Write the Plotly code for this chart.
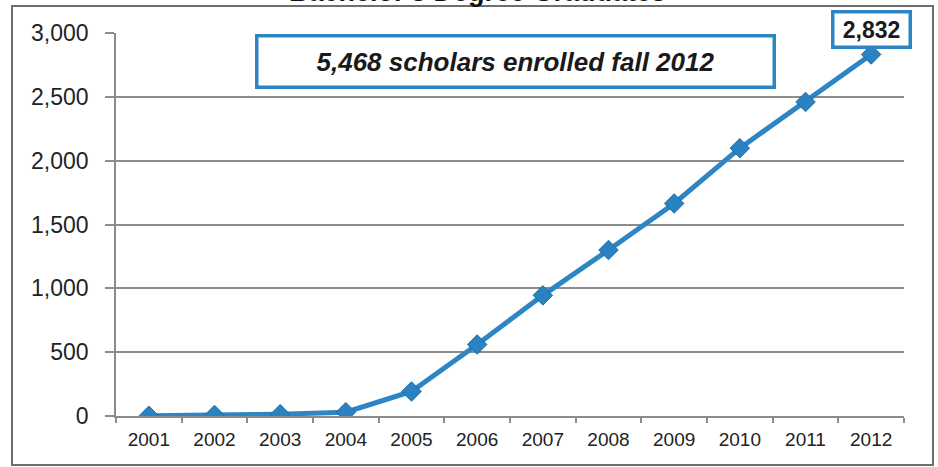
import plotly.graph_objects as go

# Bachelor's degree graduates per year
years = ["2001", "2002", "2003", "2004", "2005", "2006",
         "2007", "2008", "2009", "2010", "2011", "2012"]
graduates = [2, 8, 14, 30, 192, 560, 945, 1300, 1665, 2098, 2460, 2832]
y_ticks = [0, 500, 1000, 1500, 2000, 2500, 3000]
title_text = "Bachelor's Degree Graduates"
callout_text = "5,468 scholars enrolled fall 2012"

W, H = 938, 467
L, R, T, B = 116, 34, 33, 51
plot_w = W - L - R
plot_h = H - T - B

BLUE = "#2d85c4"
GRID = "#8c8c8c"
FONT = "Liberation Sans"


def px_x(p):
    return (p - L) / plot_w


def px_y(p):
    return 1 - (p - T) / plot_h


fig = go.Figure()
fig.add_trace(go.Scatter(
    x=years, y=graduates, mode="lines+markers",
    line=dict(color=BLUE, width=5),
    marker=dict(symbol="diamond", size=15, color="#2a82c2",
                line=dict(color="#1f6ea8", width=1)),
    hoverinfo="x+y", showlegend=False,
))

fig.update_layout(
    width=W, height=H,
    margin=dict(l=L, r=R, t=T, b=B, pad=0),
    paper_bgcolor="white", plot_bgcolor="white",
    font=dict(family=FONT, color="#222222"),
    xaxis=dict(
        type="category", range=[-0.5, len(years) - 0.5],
        showline=True, linecolor=GRID, linewidth=1.5,
        ticks="outside", tickson="boundaries", ticklen=5,
        tickcolor=GRID, tickwidth=1.5,
        tickfont=dict(size=19, color="#222222"),
        ticklabelstandoff=5,
        showgrid=False,
    ),
    yaxis=dict(
        range=[0, 3000], tickvals=y_ticks,
        tickformat=",d",
        showline=True, linecolor=GRID, linewidth=1.5,
        ticks="outside", ticklen=9, tickcolor=GRID, tickwidth=1.5,
        tickfont=dict(size=23, color="#222222"),
        ticklabelstandoff=12,
        showgrid=True, gridcolor=GRID, gridwidth=1.5,
        zeroline=False,
    ),
)

# outer frame around the whole chart
fig.add_shape(
    type="rect", xref="paper", yref="paper",
    x0=px_x(12), x1=px_x(933), y0=px_y(465), y1=px_y(6),
    line=dict(color="#6e6e6e", width=2), fillcolor="rgba(0,0,0,0)",
    layer="below",
)

# chart title
fig.add_annotation(
    text=title_text, xref="paper", yref="paper",
    x=px_x(477), y=px_y(-8), xanchor="center", yanchor="middle",
    showarrow=False, font=dict(size=27, color="#111111", weight="bold"),
)

# enrolment callout
fig.add_annotation(
    text=callout_text, xref="paper", yref="paper",
    x=px_x(515), y=px_y(61), xanchor="center", yanchor="middle",
    showarrow=False, width=508, height=42, borderpad=3,
    bordercolor=BLUE, borderwidth=3.5, bgcolor="white",
    font=dict(size=26, color="#1a1a1a", weight="bold", style="italic"),
)

# last value label (category axes take the category's index)
last = len(years) - 1
fig.add_annotation(
    text=f"{graduates[last]:,}", x=last, y=graduates[last],
    xref="x", yref="y", showarrow=False, yshift=25,
    width=70, height=28, borderpad=2,
    bordercolor=BLUE, borderwidth=3.5, bgcolor="white",
    font=dict(size=23, color="#1a1a1a", weight="bold"),
)

fig.write_html("out.html")
